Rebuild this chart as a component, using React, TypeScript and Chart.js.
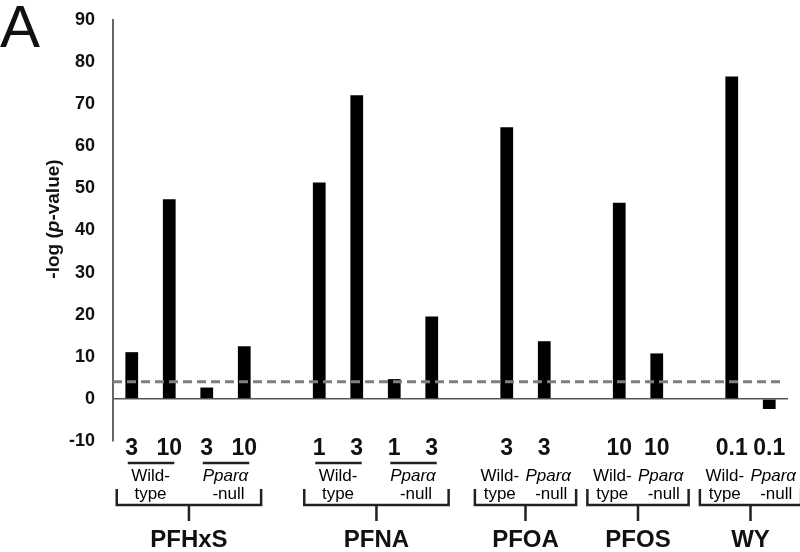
import React, { useEffect, useRef } from "react";
import { Chart, registerables } from "chart.js";

Chart.register(...registerables);

// ---- data ----
const categories = [
  "PFHxS-WT-3", "PFHxS-WT-10", "PFHxS-KO-3", "PFHxS-KO-10", "gap1",
  "PFNA-WT-1", "PFNA-WT-3", "PFNA-KO-1", "PFNA-KO-3", "gap2",
  "PFOA-WT-3", "PFOA-KO-3", "gap3",
  "PFOS-WT-10", "PFOS-KO-10", "gap4",
  "WY-WT-0.1", "WY-KO-0.1",
];
const doses = ["3", "10", "3", "10", "", "1", "3", "1", "3", "", "3", "3", "", "10", "10", "", "0.1", "0.1"];
const values: (number | null)[] = [
  11.1, 47.4, 2.7, 12.5, null,
  51.4, 72.1, 4.7, 19.6, null,
  64.5, 13.7, null,
  46.6, 10.8, null,
  76.6, -2.4,
];
const groupNames = ["PFHxS", "PFNA", "PFOA", "PFOS", "WY"];
const groupStart = [0, 5, 10, 13, 16];
const groupEnd = [3, 8, 11, 14, 17];
// genotype spans: [fromIndex, toIndex, kind]
const genotypeSpans: [number, number, "wt" | "null"][] = [
  [0, 1, "wt"], [2, 3, "null"],
  [5, 6, "wt"], [7, 8, "null"],
  [10, 10, "wt"], [11, 11, "null"],
  [13, 13, "wt"], [14, 14, "null"],
  [16, 16, "wt"], [17, 17, "null"],
];
const threshold = 4.1;
const yMin = -10;
const yMax = 90;
const yStep = 10;

const FONT = "'Liberation Sans', Arial, sans-serif";

const annotationPlugin = {
  id: "annotations",
  afterDatasetsDraw(chart: any) {
    const ctx = chart.ctx;
    const ys = chart.scales.y;
    const ca = chart.chartArea;
    ctx.save();
    const ty = ys.getPixelForValue(threshold);
    ctx.strokeStyle = "#7f7f7f";
    ctx.lineWidth = 3;
    ctx.setLineDash([9, 5]);
    ctx.beginPath();
    ctx.moveTo(ca.left, ty);
    ctx.lineTo(ca.right - 3, ty);
    ctx.stroke();
    ctx.setLineDash([]);
    ctx.restore();
  },
  afterDraw(chart: any) {
    const ctx = chart.ctx;
    const xs = chart.scales.x;
    const slot = xs.getPixelForValue(1) - xs.getPixelForValue(0);
    const px = (i: number) => xs.getPixelForValue(i);
    ctx.save();
    ctx.fillStyle = "#111";
    ctx.strokeStyle = "#222";

    // Panel letter
    ctx.font = `60px ${FONT}`;
    ctx.textAlign = "left";
    ctx.textBaseline = "alphabetic";
    ctx.fillText("A", 0, 47);

    // Y axis title with italic p
    const parts: [string, string][] = [
      ["-log (", `bold 19px ${FONT}`],
      ["p", `italic bold 19px ${FONT}`],
      ["-value)", `bold 19px ${FONT}`],
    ];
    let total = 0;
    for (const [t, f] of parts) { ctx.font = f; total += ctx.measureText(t).width; }
    ctx.save();
    ctx.translate(54, 219);
    ctx.rotate(-Math.PI / 2);
    ctx.textBaseline = "middle";
    let cx = -total / 2;
    for (const [t, f] of parts) {
      ctx.font = f;
      ctx.fillText(t, cx, 0);
      cx += ctx.measureText(t).width;
    }
    ctx.restore();

    // Dose labels
    ctx.font = `bold 23px ${FONT}`;
    ctx.textAlign = "center";
    ctx.textBaseline = "alphabetic";
    doses.forEach((d, i) => {
      if (d) ctx.fillText(d, px(i), 455);
    });

    // Genotype labels
    ctx.fillStyle = "#000";
    for (const [a, b, kind] of genotypeSpans) {
      let cxg: number;
      if (a !== b) {
        ctx.lineWidth = 2.5;
        ctx.beginPath();
        ctx.moveTo(px(a) - 4, 463);
        ctx.lineTo(px(b) + 5, 463);
        ctx.stroke();
        cxg = (px(a) + px(b)) / 2;
      } else {
        cxg = px(a) + (kind === "wt" ? -7 : 4);
      }
      if (kind === "wt") {
        ctx.font = `17px ${FONT}`;
        ctx.fillText("Wild-", cxg, 481);
        ctx.fillText("type", cxg, 499);
      } else {
        ctx.font = `italic 17px ${FONT}`;
        ctx.fillText("Pparα", cxg, 481);
        ctx.font = `17px ${FONT}`;
        ctx.fillText("-null", cxg + 3, 499);
      }
    }

    // Brackets and group names
    ctx.fillStyle = "#111";
    groupNames.forEach((name, g) => {
      const s = groupStart[g];
      const e = groupEnd[g];
      const four = e - s >= 3;
      const x1 = px(s) - (four ? 0.4 : 0.85) * slot;
      const x2 = px(e) + (four ? 0.45 : 0.85) * slot;
      const mid = (x1 + x2) / 2;
      ctx.lineWidth = 2.5;
      ctx.beginPath();
      ctx.moveTo(x1, 489);
      ctx.lineTo(x1, 505);
      ctx.lineTo(x2, 505);
      ctx.lineTo(x2, 489);
      ctx.moveTo(mid, 505);
      ctx.lineTo(mid, 521);
      ctx.stroke();
      ctx.font = `bold 24px ${FONT}`;
      ctx.fillText(name, mid, 547);
    });

    ctx.restore();
  },
};

export default function App() {
  const ref = useRef<HTMLCanvasElement>(null);
  useEffect(() => {
    document.body.style.margin = "0";
    const chart = new Chart(ref.current!, {
      type: "bar",
      data: {
        labels: categories,
        datasets: [
          {
            data: values,
            backgroundColor: "#000",
            borderWidth: 0,
            barPercentage: 0.34,
            categoryPercentage: 1,
          },
        ],
      },
      options: {
        responsive: false,
        animation: false,
        layout: { padding: { top: 20, right: 12, bottom: 111, left: 0 } },
        plugins: { legend: { display: false }, tooltip: { enabled: false } },
        scales: {
          x: {
            display: false,
            offset: true,
          },
          y: {
            min: yMin,
            max: yMax,
            afterFit: (scale: any) => {
              scale.width = 113;
              scale.paddingTop = 0;
              scale.paddingBottom = 0;
            },
            ticks: {
              stepSize: yStep,
              padding: 18,
              color: "#111",
              font: { family: FONT, size: 18, weight: "bold" },
            },
            grid: {
              drawTicks: false,
              color: (c: any) => (c.tick && c.tick.value === 0 ? "#555" : "rgba(0,0,0,0)"),
              lineWidth: 1.5,
            },
            border: { color: "#666", width: 2 },
          },
        },
      },
      plugins: [annotationPlugin],
    });
    return () => chart.destroy();
  }, []);
  return (
    <div style={{ width: 800, height: 552 }}>
      <canvas ref={ref} width={800} height={552} />
    </div>
  );
}
